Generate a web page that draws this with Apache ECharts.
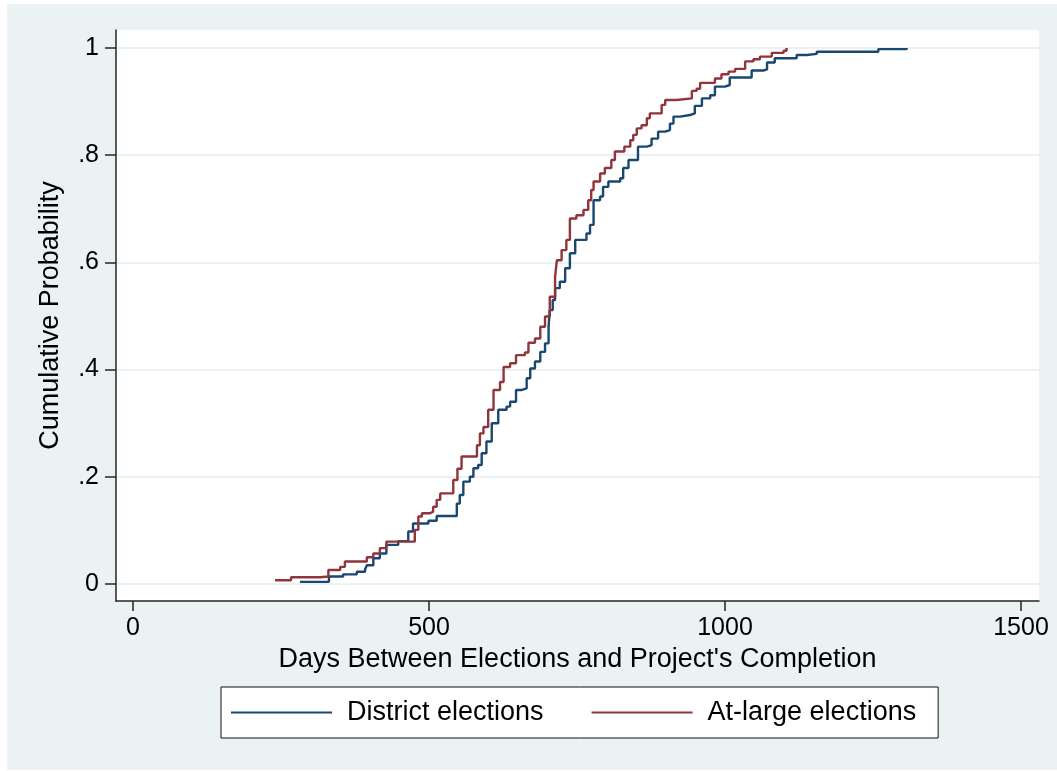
<!DOCTYPE html>
<html>
<head>
<meta charset="utf-8">
<script src="https://cdn.jsdelivr.net/npm/echarts@6/dist/echarts.min.js"></script>
<style>
html,body{margin:0;padding:0;background:#fff;}
#chart{width:1057px;height:771px;}
</style>
</head>
<body>
<div id="chart"></div>
<script>
// ---- data ----
const districtDays = [282,331,355,378,392,395,406,417,428,448,465,473,499,513,547,552,558,569,575,583,589,597,606,617,631,637,647,657,665,671,679,688,696,702,704,709,713,721,730,738,747,766,772,778,789,794,803,823,828,837,853,868,876,887,899,907,913,924,941,949,961,975,983,1000,1008,1045,1065,1071,1084,1121,1138,1155,1259,1307];
const districtProb = [.004,.014,.018,.023,.027,.035,.048,.057,.073,.080,.098,.113,.118,.127,.150,.166,.191,.200,.216,.222,.244,.266,.300,.325,.331,.340,.362,.365,.384,.402,.415,.433,.449,.480,.511,.530,.552,.564,.589,.617,.642,.654,.670,.716,.723,.741,.751,.757,.776,.791,.816,.819,.831,.844,.847,.859,.872,.875,.878,.892,.906,.912,.928,.931,.945,.958,.960,.973,.981,.987,.989,.993,.998,1.0];

const atLargeDays = [240,267,317,330,350,358,395,406,417,428,476,482,488,502,507,513,519,541,548,555,581,586,592,600,609,620,626,637,647,662,668,679,688,696,704,713,716,724,732,738,749,761,769,774,778,789,797,808,814,830,840,845,851,859,868,873,893,899,918,944,952,958,983,994,1006,1017,1034,1048,1059,1079,1099,1104];
const atLargeProb = [.007,.0125,.014,.026,.032,.042,.050,.057,.067,.079,.101,.126,.132,.135,.144,.157,.169,.194,.215,.238,.259,.281,.293,.325,.362,.377,.405,.412,.427,.432,.450,.458,.480,.499,.536,.573,.604,.623,.642,.682,.688,.698,.716,.735,.751,.766,.776,.791,.807,.816,.828,.838,.850,.856,.869,.878,.894,.903,.906,.920,.924,.935,.943,.951,.956,.961,.975,.979,.984,.991,.995,1.0];

const xTicks = [0, 500, 1000, 1500];
const yTicks = [0, 0.2, 0.4, 0.6, 0.8, 1];
const seriesNames = ['District elections', 'At-large elections'];
const xTitle = "Days Between Elections and Project's Completion";
const yTitle = 'Cumulative Probability';

function zip(a, b) { return a.map((v, i) => [v, b[i]]); }

const FONT = 'Liberation Sans';
const BG = '#EAF2F3';
const AX = '#262626';

const chart = echarts.init(document.getElementById('chart'), null, {renderer: 'canvas'});
chart.setOption({
  backgroundColor: BG,
  animation: false,
  textStyle: {fontFamily: FONT},
  graphic: [
    {type: 'rect', shape: {x: 0, y: 0, width: 7, height: 771}, style: {fill: '#fff'}, silent: true},
    {type: 'rect', shape: {x: 0, y: 0, width: 1057, height: 4}, style: {fill: '#fff'}, silent: true},
    {type: 'rect', shape: {x: 0, y: 770, width: 1057, height: 1}, style: {fill: '#fff'}, silent: true}
  ],
  grid: {
    left: 116, top: 30, right: 18, bottom: 170,
    show: true, backgroundColor: '#fff', borderWidth: 0
  },
  legend: {
    left: 221, top: 687,
    orient: 'horizontal',
    padding: [12, 22, 12, 10],
    itemGap: 48,
    itemWidth: 101,
    itemHeight: 2,
    icon: 'rect',
    backgroundColor: '#fff',
    borderColor: '#111',
    borderWidth: 1,
    borderRadius: 0,
    textStyle: {fontFamily: FONT, fontSize: 27, color: '#000', padding: [0, 0, 0, 10]},
    data: seriesNames
  },
  xAxis: {
    type: 'value',
    min: -28.7, max: 1530.4,
    axisLine: {show: true, onZero: false, lineStyle: {color: AX, width: 1.5}},
    axisTick: {show: true, length: 10, customValues: xTicks, lineStyle: {color: AX, width: 1.5}},
    axisLabel: {
      show: true, customValues: xTicks, fontSize: 25, color: '#000', margin: 15, fontFamily: FONT,
      formatter: function (v) { return String(Math.round(v)); }
    },
    splitLine: {show: false},
    name: xTitle,
    nameLocation: 'middle',
    nameGap: 45,
    nameTextStyle: {fontSize: 27, color: '#000', fontFamily: FONT}
  },
  yAxis: {
    type: 'value',
    min: -0.0317, max: 1.0336,
    axisLine: {show: true, onZero: false, lineStyle: {color: AX, width: 1.5}},
    axisTick: {show: true, length: 11, customValues: yTicks, lineStyle: {color: AX, width: 1.5}},
    axisLabel: {
      show: true, customValues: yTicks, fontSize: 25, color: '#000', margin: 17, fontFamily: FONT,
      formatter: function (v) {
        if (Math.abs(v) < 1e-9) return '0';
        if (Math.abs(v - 1) < 1e-9) return '1';
        return '.' + Math.round(v * 10);
      }
    },
    splitLine: {show: true, lineStyle: {color: BG, width: 2}},
    name: yTitle,
    nameLocation: 'middle',
    nameGap: 52,
    nameTextStyle: {fontSize: 27, color: '#000', fontFamily: FONT}
  },
  series: [
    {
      name: seriesNames[0], type: 'line', step: 'end',
      data: zip(districtDays, districtProb),
      showSymbol: false, symbol: 'none',
      lineStyle: {color: '#1a476f', width: 2.4},
      itemStyle: {color: '#1a476f'}
    },
    {
      name: seriesNames[1], type: 'line', step: 'end',
      data: zip(atLargeDays, atLargeProb),
      showSymbol: false, symbol: 'none',
      lineStyle: {color: '#90353b', width: 2.4},
      itemStyle: {color: '#90353b'}
    }
  ]
});
</script>
</body>
</html>
